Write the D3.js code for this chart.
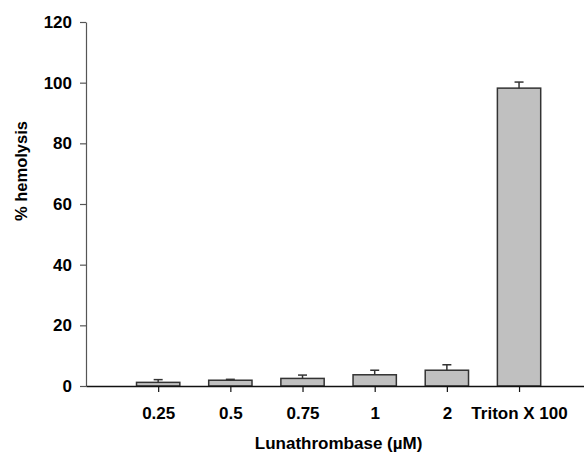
<!DOCTYPE html>
<html>
<head>
<meta charset="utf-8">
<script src="https://cdn.jsdelivr.net/npm/d3@7"></script>
<style>
  html, body { margin: 0; padding: 0; background: #fff; }
  svg { display: block; }
  text { font-family: Arial, "Liberation Sans", sans-serif; font-weight: bold; fill: #000; }
</style>
</head>
<body>
<svg id="chart" width="584" height="452"></svg>
<script>
// Hemolysis (%) by treatment, mean with upper error bar
const categories = ["0.25", "0.5", "0.75", "1", "2", "Triton X 100"];
const hemolysis = [1.2, 1.9, 2.5, 3.7, 5.2, 98.2];
const errors = [0.9, 0.3, 1.1, 1.5, 1.8, 2.0];
const yTicks = [0, 20, 40, 60, 80, 100, 120];

const svg = d3.select("#chart");

// category i sits at position i + 1 on a linear index axis
const x = d3.scaleLinear().domain([0, 6.9]).range([86, 584]);
const y = d3.scaleLinear().domain([0, 120]).range([386, 22]);
const step = x(1) - x(0);
const barW = step * 0.6;

const rows = categories.map((c, i) => ({ c, i: i + 1, v: hemolysis[i], e: errors[i] }));

// bars
svg.append("g").selectAll("rect").data(rows).join("rect")
  .attr("x", d => x(d.i) - barW / 2)
  .attr("y", d => y(d.v))
  .attr("width", barW)
  .attr("height", d => y(0) - y(d.v))
  .attr("fill", "#c0c0c0")
  .attr("stroke", "#333")
  .attr("stroke-width", 1.5);

// upper error bars
const eb = svg.append("g").attr("stroke", "#333").attr("stroke-width", 1.5);
eb.selectAll("line.v").data(rows).join("line").attr("class", "v")
  .attr("x1", d => x(d.i)).attr("x2", d => x(d.i))
  .attr("y1", d => y(d.v)).attr("y2", d => y(d.v + d.e));
eb.selectAll("line.cap").data(rows).join("line").attr("class", "cap")
  .attr("x1", d => x(d.i) - 4.5).attr("x2", d => x(d.i) + 4.5)
  .attr("y1", d => y(d.v + d.e)).attr("y2", d => y(d.v + d.e));

const font = "Arial, 'Liberation Sans', sans-serif";

// y axis
const yAxis = svg.append("g")
  .attr("transform", "translate(86,0)")
  .call(d3.axisLeft(y).tickValues(yTicks).tickSize(6).tickPadding(8).tickSizeOuter(0));
yAxis.select(".domain").attr("stroke", "#555").attr("stroke-width", 1.2);
yAxis.selectAll(".tick line").attr("stroke", "#555").attr("stroke-width", 1.2);
yAxis.selectAll(".tick text")
  .attr("font-size", 17).attr("font-family", font)
  .attr("font-weight", "bold").attr("fill", "#000");

// x axis
const xAxis = svg.append("g")
  .attr("transform", `translate(0,${y(0)})`)
  .call(d3.axisBottom(x).tickValues(rows.map(d => d.i))
    .tickFormat(i => categories[i - 1]).tickSize(6).tickPadding(15).tickSizeOuter(0));
xAxis.select(".domain").attr("stroke", "#111").attr("stroke-width", 1.5);
xAxis.selectAll(".tick line").attr("stroke", "#111").attr("stroke-width", 1.2);
xAxis.selectAll(".tick text")
  .attr("font-size", 17).attr("font-family", font)
  .attr("font-weight", "bold").attr("fill", "#000");

// axis titles
svg.append("text")
  .attr("x", (x(1) + x(6)) / 2).attr("y", 449)
  .attr("text-anchor", "middle").attr("font-size", 17)
  .text("Lunathrombase (\u00b5M)");

svg.append("text")
  .attr("transform", "translate(27,171) rotate(-90)")
  .attr("text-anchor", "middle").attr("font-size", 16.5)
  .text("% hemolysis");
</script>
</body>
</html>
